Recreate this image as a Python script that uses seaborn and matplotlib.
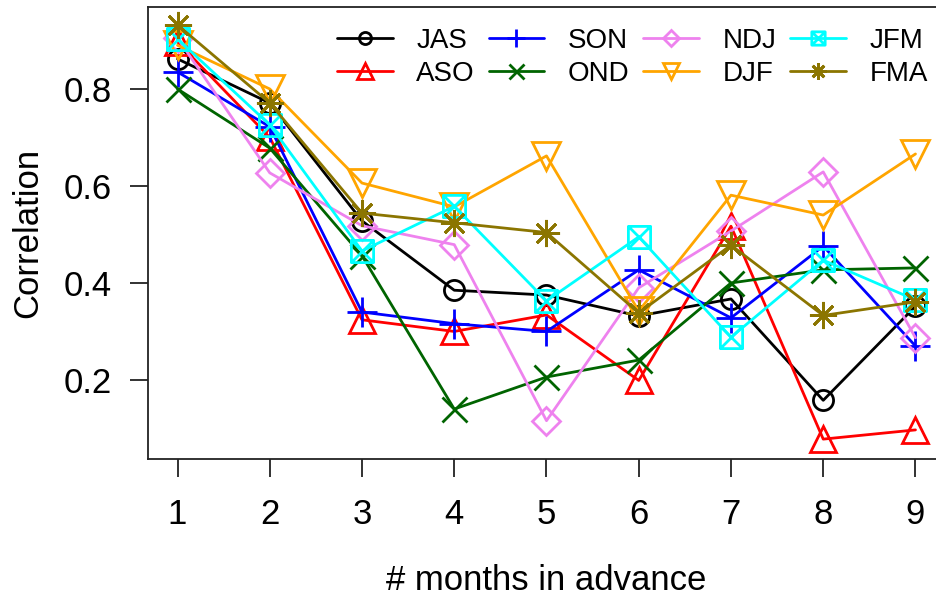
import numpy as np
import pandas as pd
import matplotlib
matplotlib.use("Agg")
import matplotlib.pyplot as plt
from matplotlib.path import Path
import seaborn as sns

months = [1, 2, 3, 4, 5, 6, 7, 8, 9]
JAS = [0.862, 0.771, 0.528, 0.385, 0.375, 0.332, 0.367, 0.158, 0.352]
ASO = [0.897, 0.700, 0.324, 0.300, 0.334, 0.199, 0.517, 0.078, 0.097]
SON = [0.835, 0.722, 0.340, 0.316, 0.300, 0.427, 0.328, 0.476, 0.270]
OND = [0.800, 0.678, 0.456, 0.140, 0.206, 0.241, 0.400, 0.427, 0.431]
NDJ = [0.905, 0.627, 0.518, 0.479, 0.116, 0.390, 0.507, 0.629, 0.287]
DJF = [0.890, 0.800, 0.606, 0.557, 0.662, 0.342, 0.581, 0.540, 0.666]
JFM = [0.903, 0.726, 0.466, 0.558, 0.363, 0.495, 0.288, 0.447, 0.365]
FMA = [0.932, 0.771, 0.544, 0.524, 0.504, 0.338, 0.478, 0.333, 0.361]

series_names = ["JAS", "ASO", "SON", "OND", "NDJ", "DJF", "JFM", "FMA"]
series_values = [JAS, ASO, SON, OND, NDJ, DJF, JFM, FMA]
colors = ["black", "red", "blue", "#006400", "#EE82EE", "#FFA500", "#00FFFF", "#8B7500"]

# R-style symbols
sq_x = Path([(-1, -1), (1, -1), (1, 1), (-1, 1), (-1, -1),
             (-1, -1), (1, 1), (-1, 1), (1, -1)],
            [Path.MOVETO, Path.LINETO, Path.LINETO, Path.LINETO, Path.CLOSEPOLY,
             Path.MOVETO, Path.LINETO, Path.MOVETO, Path.LINETO])
markers = ["o", "^", "+", "x", "D", "v", sq_x, (8, 2, 0)]
msizes = [14.5, 19, 21, 18, 14.3, 19.5, 16, 19.5]

sns.set_theme(style="white")
plt.rcParams["font.family"] = ["Liberation Sans", "DejaVu Sans"]
plt.rcParams["text.color"] = "black"
plt.rcParams["axes.labelcolor"] = "black"
plt.rcParams["xtick.color"] = "black"
plt.rcParams["ytick.color"] = "black"

fig = plt.figure(figsize=(9.37, 5.96), dpi=100)
ax = fig.add_axes([148 / 937, 137 / 596, (945 - 148) / 937, (459 - 7) / 596])

df = pd.DataFrame({
    "month": np.tile(months, len(series_names)),
    "corr": np.concatenate(series_values),
    "season": np.repeat(series_names, len(months)),
})

for name, col, mk, ms in zip(series_names, colors, markers, msizes):
    sub = df[df["season"] == name]
    sns.lineplot(data=sub, x="month", y="corr", ax=ax, color=col, marker=mk,
                 markersize=ms, markerfacecolor="none", markeredgecolor=col,
                 markeredgewidth=2.0, linewidth=2.0, label=name, legend=False)

ax.set_xlim(0.68, 9.32)
ax.set_ylim(0.037, 0.969)
ax.set_xticks(months)
ax.set_yticks([0.2, 0.4, 0.6, 0.8])
ax.set_yticklabels(["0.2", "0.4", "0.6", "0.8"])
ax.tick_params(axis="both", which="major", labelsize=25, length=13, width=1.3,
               color="#222222", labelcolor="black", direction="out",
               bottom=True, left=True)
ax.tick_params(axis="y", pad=13)
ax.tick_params(axis="x", pad=15)
for sp in ax.spines.values():
    sp.set_color("#222222")
    sp.set_linewidth(1.3)

ax.set_xlabel("# months in advance", fontsize=25, labelpad=24, color="black")
ax.set_ylabel("Correlation", fontsize=25, labelpad=14, color="black")

handles, labels = ax.get_legend_handles_labels()
leg = ax.legend(handles, labels, ncol=4, frameon=False, fontsize=20,
                loc="upper left", bbox_to_anchor=(337 / 937, 1 - 28 / 596),
                bbox_transform=fig.transFigure, markerscale=0.6,
                handlelength=2.0, handletextpad=0.85, columnspacing=0.5,
                labelspacing=0.25, borderpad=0, borderaxespad=0)
for t in leg.get_texts():
    t.set_color("black")

fig.savefig("out.png", dpi=100)
